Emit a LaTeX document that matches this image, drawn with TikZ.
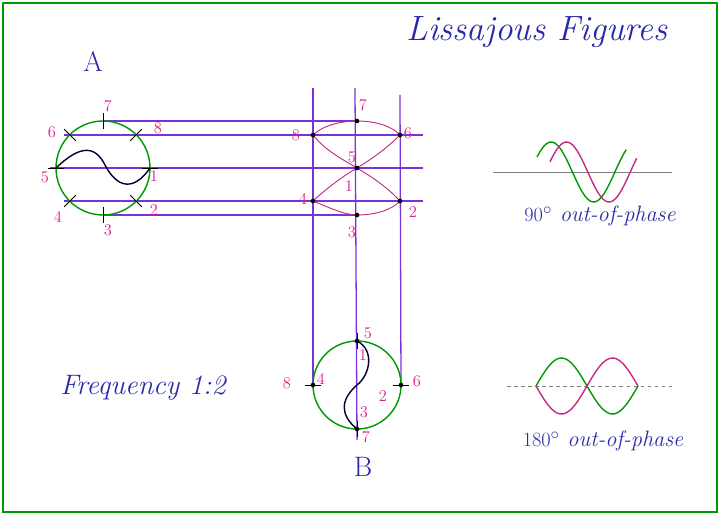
\documentclass[tikz,border=0pt]{standalone}
\usepackage{tikz}
\usetikzlibrary{arrows,positioning,calc}
\definecolor{projviolet}{RGB}{120,50,220}
\definecolor{numpink}{RGB}{220,30,140}
\definecolor{inkblue}{RGB}{40,40,170}
\tikzstyle{proj} = [line width=1.1pt, draw=projviolet]
\tikzstyle{num} = [text=numpink, font=\fontsize{14}{16}\selectfont]
\tikzstyle{hand} = [text=inkblue, font=\fontsize{19}{22}\selectfont\itshape]
\tikzstyle{dot} = [circle, inner sep=1.4pt, fill=black]
\tikzstyle{tick} = [thick, black]
\begin{document}
\begin{tikzpicture}[x=0.03cm, y=-0.03cm]
\useasboundingbox (0,0) rectangle (720,515);
\draw [line width=2pt, green!60!black] (3,3) rectangle (717,512);
% titles
\node (title) [hand, font=\fontsize{30}{34}\selectfont\itshape] at (537,32) {Lissajous Figures};
\node (labA) [hand, font=\fontsize{24}{28}\selectfont] at (93,62) {A};
\node (labB) [hand, font=\fontsize{24}{28}\selectfont] at (363,467) {B};
\node (freq) [hand, font=\fontsize{24}{28}\selectfont\itshape] at (143,388) {Frequency 1:2};
% circle A points
\coordinate (ca) at (103,168); \coordinate (cb) at (357,385);
\coordinate (a7) at (103,121); \coordinate (a8) at (136,135);
\coordinate (a1) at (150,168); \coordinate (a2) at (136,201);
\coordinate (a3) at (103,215); \coordinate (a4) at (70,201);
\coordinate (a5) at (56,168);  \coordinate (a6) at (70,135);
% figure points
\coordinate (f7) at (357,121); \coordinate (f8) at (313,135);
\coordinate (f6) at (400,135); \coordinate (f5) at (357,168);
\coordinate (f4) at (313,201); \coordinate (f2) at (400,201);
\coordinate (f3) at (357,215);
% circle B points
\coordinate (b5) at (357,341); \coordinate (b4) at (313,385);
\coordinate (b2) at (401,385); \coordinate (b7) at (357,429);
% projection lines
\coordinate (tl) at (313,88); \coordinate (tc) at (355,88); \coordinate (tr) at (400,95);
\coordinate (bc) at (357,440);
\draw [proj] (a7) -- (f7);
\draw [proj] (a3) -- (f3);
\draw [proj] ([xshift=-5]a6) -- ([xshift=20]f6);
\draw [proj] ([xshift=-5]a5) -- ([xshift=20]f6 |- f5);
\draw [proj] ([xshift=-5]a4) -- ([xshift=20]f2);
\draw [proj] (tl) -- (b4);
\draw [proj] (tc) -- (bc);
\draw [proj] (tr) -- (b2);
% circles
\draw [very thick, green!60!black] (ca) circle (47);
\draw [very thick, green!60!black] (cb) circle (44);
\draw [very thick, black!80!blue] (a5) .. controls (80,145) and (95,145) .. (105,165)
  .. controls (118,190) and (135,190) .. (a1);
\draw [very thick, black!80!blue] (b5) .. controls (375,350) and (370,375) .. (357,385)
  .. controls (340,400) and (340,415) .. (b7);
\foreach \p in {a1,a2,a3,a4,a5,a6,a7,a8}
  \draw [tick] ($(\p)!7pt!(ca)$) -- ($(\p)!-7pt!(ca)$);
\foreach \p in {b4,b2,b5,b7}
  \draw [tick] ($(\p)!7pt!(cb)$) -- ($(\p)!-7pt!(cb)$);
% lissajous figure
\draw [thick, magenta!80!black] (f7) .. controls (375,121) and (392,126) .. (f6)
  .. controls (385,150) and (370,160) .. (f5)
  .. controls (340,178) and (325,190) .. (f4)
  .. controls (330,208) and (345,215) .. (f3)
  .. controls (375,215) and (392,210) .. (f2)
  .. controls (385,185) and (370,176) .. (f5)
  .. controls (340,158) and (325,150) .. (f8)
  .. controls (322,126) and (340,121) .. (f7);
\foreach \p in {f7,f8,f6,f5,f4,f2,f3,b5,b4,b2,b7} \node [dot] at (\p) {};
% numbers
\node [num] at (108,106) {7}; \node [num] at (158,128) {8};
\node [num] at (52,132) {6};  \node [num] at (45,177) {5};
\node [num] at (154,176) {1}; \node [num] at (58,217) {4};
\node [num] at (154,210) {2}; \node [num] at (108,230) {3};
\node [num] at (363,105) {7}; \node [num] at (296,135) {8};
\node [num] at (408,133) {6}; \node [num] at (352,157) {5};
\node [num] at (349,186) {1}; \node [num] at (303,199) {4};
\node [num] at (413,212) {2}; \node [num] at (352,232) {3};
\node [num] at (368,333) {5}; \node [num] at (363,355) {1};
\node [num] at (287,383) {8}; \node [num] at (321,379) {4};
\node [num] at (383,396) {2}; \node [num] at (417,381) {6};
\node [num] at (364,412) {3}; \node [num] at (366,437) {7};
% phase sketches
\draw [gray] (493,172) -- (672,172);
\draw [very thick, green!60!black, domain=0:1.05, samples=40] plot ({537+85*\x}, {172-30*sin(360*\x+30)});
\draw [very thick, magenta!80!black, domain=0:1.02, samples=40] plot ({550+85*\x}, {172-30*sin(360*\x+20)});
\node (ph90) [hand] at (600,216) {$90^\circ$ out-of-phase};
\draw [gray, dashed] (507,386) -- (672,386);
\draw [very thick, green!60!black, domain=0:1, samples=40] plot ({536+102*\x}, {386-28*sin(360*\x)});
\draw [very thick, magenta!80!black, domain=0:1, samples=40] plot ({536+102*\x}, {386+28*sin(360*\x)});
\node (ph180) [hand] at (603,441) {$180^\circ$ out-of-phase};
\end{tikzpicture}
\end{document}
